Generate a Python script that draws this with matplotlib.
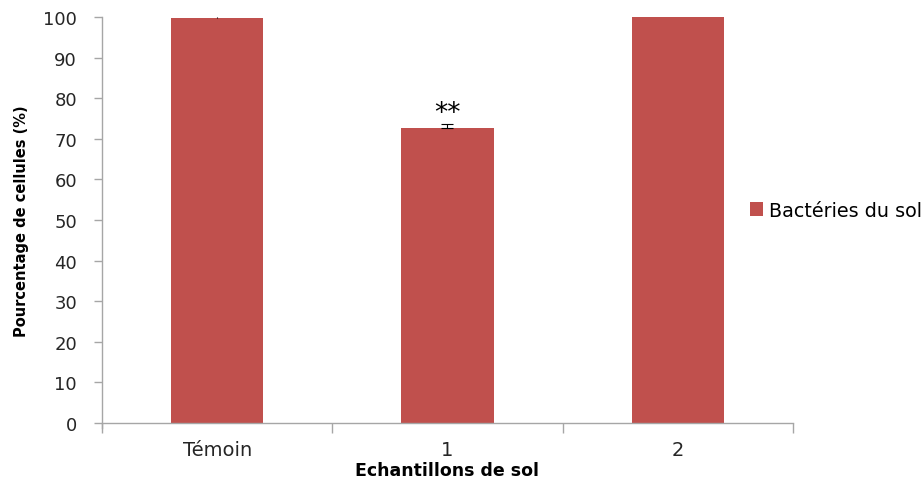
import matplotlib
matplotlib.use("Agg")
import matplotlib.pyplot as plt
from matplotlib.patches import Patch

categories = ["Témoin", "1", "2"]
values = [99.8, 72.6, 100.0]
errors = [0.3, 1.0, 0.0]
stars = ["", "**", ""]
series_name = "Bactéries du sol"
yticks = [0, 10, 20, 30, 40, 50, 60, 70, 80, 90, 100]

bar_color = "#C0504D"
axis_color = "#A6A6A6"
text_color = "#262626"
font = "DejaVu Sans"

fig = plt.figure(figsize=(9.24, 4.81), dpi=100)
ax = fig.add_axes([0.1104, 0.1185, 0.8582 - 0.1104, 0.9626 - 0.1185])

x = list(range(len(categories)))
ax.bar(x, values, width=0.4, color=bar_color, zorder=2)
for xi, v, e in zip(x, values, errors):
    if e > 0:
        ax.errorbar(xi, v, yerr=[[0], [e]], fmt="none", ecolor="black",
                    elinewidth=0.8, capsize=4.5 if e >= 0.5 else 0,
                    capthick=0.8, zorder=3, clip_on=False)
for xi, v, e, s in zip(x, values, errors, stars):
    if s:
        ax.text(xi, v + e - 0.4, s, ha="center", va="bottom", fontsize=19,
                color="black", family=font)

ax.set_xlim(-0.5, 2.5)
ax.set_ylim(0, 100)
ax.set_yticks(yticks)
ax.set_yticklabels([str(t) for t in yticks], fontsize=13, color=text_color,
                   family=font)

# category ticks sit on the boundaries between groups
ax.set_xticks([-0.5, 0.5, 1.5, 2.5])
ax.set_xticklabels([])
ax.set_xticks(x, minor=True)
ax.set_xticklabels(categories, minor=True, fontsize=14, color=text_color,
                   family=font)
ax.tick_params(axis="x", which="major", length=7, color=axis_color, width=1,
               direction="out")
ax.tick_params(axis="x", which="minor", length=0, pad=12)
ax.tick_params(axis="y", length=6, color=axis_color, width=1, pad=12)

for side in ("top", "right"):
    ax.spines[side].set_visible(False)
for side in ("left", "bottom"):
    ax.spines[side].set_color(axis_color)
    ax.spines[side].set_linewidth(1)
ax.spines["left"].set_bounds(-1.2, 100)

ax.set_ylabel("Pourcentage de cellules (%)", fontsize=10.5, fontweight="bold",
              family=font, color="black", labelpad=10)
ax.set_xlabel("Echantillons de sol", fontsize=12.5, fontweight="bold",
              family=font, color="black", labelpad=2)

handle = Patch(facecolor=bar_color, edgecolor="none")
fig.legend([handle], [series_name], loc="center left",
           bbox_to_anchor=(0.803, 0.561), frameon=False,
           prop={"family": font, "size": 13.8},
           handlelength=0.68, handleheight=0.68, handletextpad=0.35,
           borderaxespad=0)

fig.savefig("out.png", dpi=100, facecolor="white")
